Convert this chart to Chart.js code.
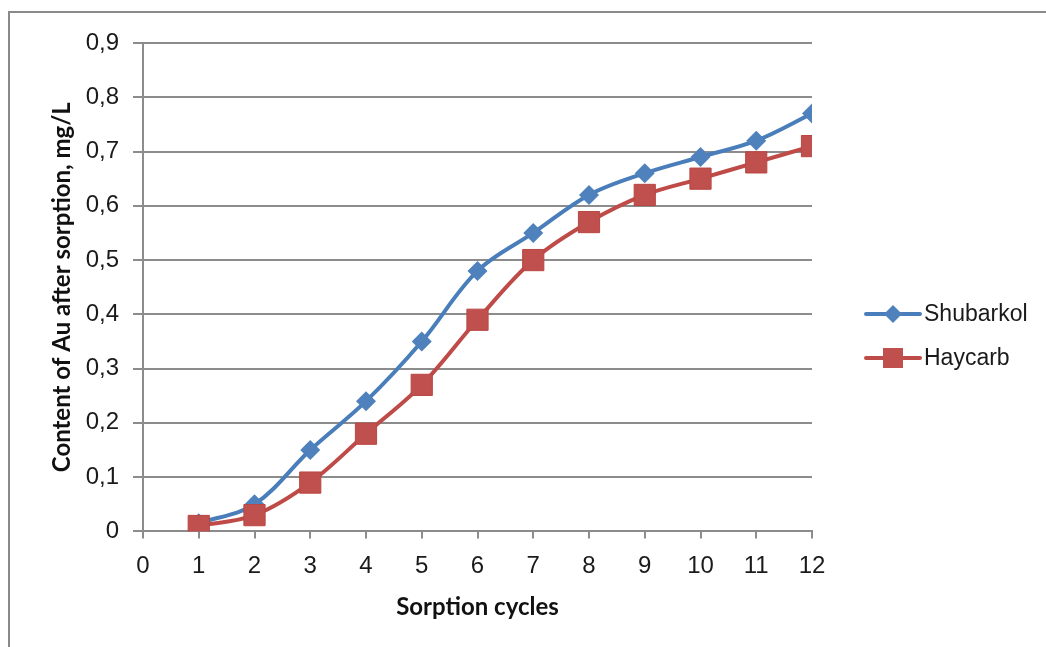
<!DOCTYPE html>
<html>
    <head>
        <meta charset="utf-8">
        <title>Content of Au after sorption</title>
        <style>
            html, body { margin: 0; padding: 0; background: #fff; }
            .chart { width: 1046px; height: 647px; }
        </style>
    </head>
    <body>
        <div class="chart">
            <canvas id="sorption" width="1046" height="647"></canvas>
        </div>
        <script src="https://cdn.jsdelivr.net/npm/chart.js"></script>
        <script>
            // Data
            const cycles = [1, 2, 3, 4, 5, 6, 7, 8, 9, 10, 11, 12];
            const shubarkol = [0.015, 0.05, 0.15, 0.24, 0.35, 0.48, 0.55, 0.62, 0.66, 0.69, 0.72, 0.77];
            const haycarb = [0.01, 0.03, 0.09, 0.18, 0.27, 0.39, 0.50, 0.57, 0.62, 0.65, 0.68, 0.71];
            const seriesNames = ['Shubarkol', 'Haycarb'];
            const xTicks = [0, 1, 2, 3, 4, 5, 6, 7, 8, 9, 10, 11, 12];
            const yTicks = [0, 0.1, 0.2, 0.3, 0.4, 0.5, 0.6, 0.7, 0.8, 0.9];

            const blue = '#4A7EBB';
            const red = '#BE4B48';
            const gridGray = '#8C8C8C';

            function points(values) {
                return cycles.map((c, i) => ({ x: c, y: values[i] }));
            }

            // Outer frame like the Excel chart border
            const frame = {
                id: 'frame',
                beforeDraw(chart) {
                    const c = chart.ctx;
                    c.save();
                    c.fillStyle = '#fff';
                    c.fillRect(0, 0, chart.width, chart.height);
                    c.strokeStyle = '#8A8A8A';
                    c.lineWidth = 2;
                    c.strokeRect(9, 12, chart.width + 20, chart.height + 20);
                    c.restore();
                }
            };

            // Legend with line + marker, drawn at the right side
            const sideLegend = {
                id: 'sideLegend',
                afterDraw(chart) {
                    const c = chart.ctx;
                    const area = chart.chartArea;
                    const x0 = area.right + 54;
                    const rows = [314, 358];
                    c.save();
                    chart.data.datasets.forEach((ds, i) => {
                        const y = rows[i];
                        c.strokeStyle = ds.borderColor;
                        c.lineWidth = 4;
                        c.lineCap = 'round';
                        c.beginPath();
                        c.moveTo(x0, y);
                        c.lineTo(x0 + 54, y);
                        c.stroke();
                        c.fillStyle = ds.pointBackgroundColor;
                        const mx = x0 + 27;
                        c.beginPath();
                        if (ds.pointStyle === 'rectRot') {
                            const r = 9;
                            c.moveTo(mx, y - r);
                            c.lineTo(mx + r, y);
                            c.lineTo(mx, y + r);
                            c.lineTo(mx - r, y);
                        } else {
                            c.rect(mx - 10, y - 10, 20, 20);
                        }
                        c.closePath();
                        c.fill();
                        c.fillStyle = '#1a1a1a';
                        c.font = '23px "Liberation Sans", Arial, sans-serif';
                        c.textBaseline = 'middle';
                        c.textAlign = 'left';
                        c.fillText(ds.label, x0 + 58, y + 1);
                    });
                    c.restore();
                }
            };

            const ctx = document.querySelector('#sorption').getContext('2d');
            const chart = new Chart(ctx, {
                type: 'line',
                data: {
                    datasets: [
                        {
                            label: seriesNames[0],
                            data: points(shubarkol),
                            borderColor: blue,
                            backgroundColor: '#4F81BD',
                            pointBackgroundColor: '#4F81BD',
                            pointBorderColor: '#4F81BD',
                            pointStyle: 'rectRot',
                            pointRadius: 10,
                            pointBorderWidth: 0,
                            borderWidth: 4,
                            tension: 0.35,
                            order: 2
                        },
                        {
                            label: seriesNames[1],
                            data: points(haycarb),
                            borderColor: red,
                            backgroundColor: '#C0504D',
                            pointBackgroundColor: '#C0504D',
                            pointBorderColor: '#B94743',
                            pointStyle: 'rect',
                            pointRadius: 15,
                            pointBorderWidth: 1,
                            borderWidth: 4,
                            tension: 0.35,
                            order: 1
                        }
                    ]
                },
                options: {
                    responsive: false,
                    animation: false,
                    layout: {
                        padding: { left: 40, right: 234, top: 43, bottom: 25 }
                    },
                    plugins: {
                        legend: { display: false },
                        tooltip: { enabled: false }
                    },
                    scales: {
                        x: {
                            type: 'linear',
                            min: 0,
                            max: 12,
                            afterBuildTicks(scale) {
                                scale.ticks = xTicks.map(v => ({ value: v }));
                            },
                            ticks: {
                                color: '#1a1a1a',
                                padding: 14,
                                font: { family: '"Liberation Sans", Arial, sans-serif', size: 24 }
                            },
                            grid: {
                                drawOnChartArea: false,
                                drawTicks: true,
                                tickLength: 7,
                                color: gridGray,
                                lineWidth: 2
                            },
                            border: { display: true, color: gridGray, width: 2 },
                            title: {
                                display: true,
                                text: 'Sorption cycles',
                                color: '#111',
                                padding: { top: -2, bottom: 0 },
                                font: { family: 'Lato, "Liberation Sans", sans-serif', size: 24, weight: 'bold' }
                            }
                        },
                        y: {
                            min: 0,
                            max: 0.9,
                            afterBuildTicks(scale) {
                                scale.ticks = yTicks.map(v => ({ value: v }));
                            },
                            afterFit(scale) {
                                scale.width = 103;
                            },
                            ticks: {
                                color: '#1a1a1a',
                                padding: 14,
                                font: { family: '"Liberation Sans", Arial, sans-serif', size: 24 },
                                callback: v => v === 0 ? '0' : v.toFixed(1).replace('.', ',')
                            },
                            grid: {
                                color: gridGray,
                                lineWidth: 2,
                                tickLength: 10
                            },
                            border: { display: true, color: gridGray, width: 2 },
                            title: {
                                display: true,
                                text: 'Content of Au after sorption, mg/L',
                                color: '#111',
                                padding: { top: 8, bottom: 0 },
                                font: { family: 'Lato, "Liberation Sans", sans-serif', size: 24, weight: 'bold' }
                            }
                        }
                    }
                },
                plugins: [frame, sideLegend]
            });
        </script>
    </body>
</html>
